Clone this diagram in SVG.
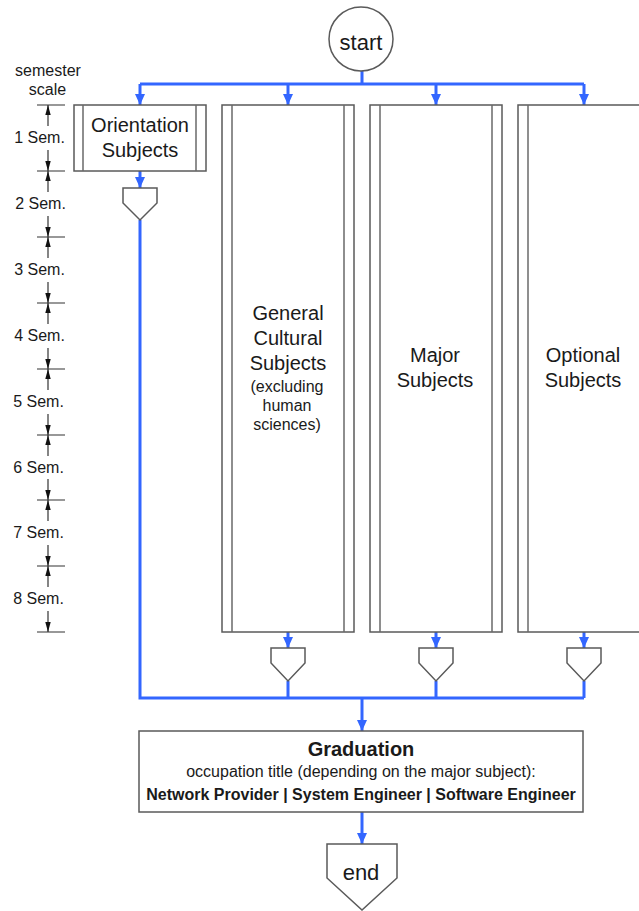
<svg xmlns="http://www.w3.org/2000/svg" width="639" height="911" viewBox="0 0 639 911">
  <style>
    text { font-family: "Liberation Sans", Arial, sans-serif; fill: #1a1a1a; }
    .lbl { font-size: 20px; text-anchor: middle; }
    .big { font-size: 22px; text-anchor: middle; }
    .small { font-size: 16px; text-anchor: middle; }
    .sem { font-size: 16px; text-anchor: middle; }
    .bold { font-weight: bold; }
    .box { fill: #ffffff; stroke: #5a5a5a; stroke-width: 1.5; }
    .inner { stroke: #6a6a6a; stroke-width: 1.5; fill: none; }
    .flow { stroke: #3366ff; stroke-width: 3; fill: none; }
    .tick { stroke: #333333; stroke-width: 1.2; fill: none; }
  </style>
  <defs>
    <marker id="arrow-blue" markerUnits="userSpaceOnUse" markerWidth="12" markerHeight="12" viewBox="0 0 12 12" refX="11" refY="6" orient="auto">
      <path d="M0,1 L11,6 L0,11 z" fill="#3366ff"/>
    </marker>
    <marker id="arrow-dim" markerUnits="userSpaceOnUse" markerWidth="10" markerHeight="8" viewBox="0 0 10 8" refX="10" refY="4" orient="auto">
      <path d="M0,1.3 L10,4 L0,6.7 z" fill="#111111"/>
    </marker>
  </defs>

  <!-- semester scale -->
  <g id="scale">
    <text class="sem" x="48" y="76">semester</text>
    <text class="sem" x="47.5" y="95">scale</text>
    <g class="tick">
      <path d="M37,105 H65 M37,171 H65 M37,237 H65 M37,303 H65 M37,369 H65 M37,435 H65 M37,500 H65 M37,566 H65 M37,632 H65"/>
    </g>
    <g class="tick" marker-end="url(#arrow-dim)">
      <path d="M48,126 V105"/><path d="M48,150 V171"/>
      <path d="M48,192 V171"/><path d="M48,216 V237"/>
      <path d="M48,258 V237"/><path d="M48,282 V303"/>
      <path d="M48,324 V303"/><path d="M48,348 V369"/>
      <path d="M48,390 V369"/><path d="M48,414 V435"/>
      <path d="M48,456 V435"/><path d="M48,479 V500"/>
      <path d="M48,521 V500"/><path d="M48,545 V566"/>
      <path d="M48,587 V566"/><path d="M48,611 V632"/>
    </g>
    <text class="sem" x="39.5" y="143">1 Sem.</text>
    <text class="sem" x="40.5" y="209">2 Sem.</text>
    <text class="sem" x="39.5" y="275">3 Sem.</text>
    <text class="sem" x="39.5" y="341">4 Sem.</text>
    <text class="sem" x="38.5" y="407">5 Sem.</text>
    <text class="sem" x="38.5" y="473">6 Sem.</text>
    <text class="sem" x="38.5" y="538">7 Sem.</text>
    <text class="sem" x="38.5" y="604">8 Sem.</text>
  </g>

  <!-- connectors -->
  <g id="connectors">
    <path class="flow" d="M362,71 V84 M140,84 H584"/>
    <path class="flow" d="M140,84 V105" marker-end="url(#arrow-blue)"/>
    <path class="flow" d="M288,84 V105" marker-end="url(#arrow-blue)"/>
    <path class="flow" d="M436,84 V105" marker-end="url(#arrow-blue)"/>
    <path class="flow" d="M584,84 V105" marker-end="url(#arrow-blue)"/>
    <path class="flow" d="M140,171 V188" marker-end="url(#arrow-blue)"/>
    <path class="flow" d="M288,632 V648" marker-end="url(#arrow-blue)"/>
    <path class="flow" d="M436,632 V648" marker-end="url(#arrow-blue)"/>
    <path class="flow" d="M584,632 V648" marker-end="url(#arrow-blue)"/>
    <path class="flow" d="M140,220 V698 H584 M288,681 V698 M436,681 V698 M584,681 V698"/>
    <path class="flow" d="M362,698 V731" marker-end="url(#arrow-blue)"/>
    <path class="flow" d="M362,812 V844" marker-end="url(#arrow-blue)"/>
  </g>

  <!-- start -->
  <g id="start">
    <circle class="box" cx="361" cy="39" r="32"/>
    <text class="big" x="361" y="50">start</text>
  </g>

  <!-- orientation subjects -->
  <g id="orientation">
    <rect class="box" x="74" y="105" width="132" height="66"/>
    <path class="inner" d="M83,105 V171 M196,105 V171"/>
    <text class="lbl" x="140" y="132">Orientation</text>
    <text class="lbl" x="140" y="157">Subjects</text>
  </g>
  <g id="orientation-merge">
    <path class="box" d="M123,188 H157 V203 L140,220 L123,203 Z"/>
  </g>

  <!-- general cultural subjects -->
  <g id="general">
    <rect class="box" x="222" y="105" width="132" height="527"/>
    <path class="inner" d="M232,105 V632 M344,105 V632"/>
    <text class="lbl" x="288" y="320">General</text>
    <text class="lbl" x="288" y="345">Cultural</text>
    <text class="lbl" x="288" y="370">Subjects</text>
    <text class="small" x="287" y="392">(excluding</text>
    <text class="small" x="287" y="411">human</text>
    <text class="small" x="287" y="430">sciences)</text>
  </g>
  <g id="general-merge">
    <path class="box" d="M271,648 H305 V663 L288,681 L271,663 Z"/>
  </g>

  <!-- major subjects -->
  <g id="major">
    <rect class="box" x="370" y="105" width="132" height="527"/>
    <path class="inner" d="M380,105 V632 M492,105 V632"/>
    <text class="lbl" x="435" y="362">Major</text>
    <text class="lbl" x="435" y="387">Subjects</text>
  </g>
  <g id="major-merge">
    <path class="box" d="M419,648 H453 V663 L436,681 L419,663 Z"/>
  </g>

  <!-- optional subjects -->
  <g id="optional">
    <rect class="box" x="518" y="105" width="132" height="527"/>
    <path class="inner" d="M528,105 V632"/>
    <text class="lbl" x="583" y="362">Optional</text>
    <text class="lbl" x="583" y="387">Subjects</text>
  </g>
  <g id="optional-merge">
    <path class="box" d="M567,648 H601 V663 L584,681 L567,663 Z"/>
  </g>

  <!-- graduation -->
  <g id="graduation">
    <rect class="box" x="139" y="731" width="444" height="81"/>
    <text class="lbl bold" x="361" y="756">Graduation</text>
    <text class="small" x="361" y="777">occupation title (depending on the major subject):</text>
    <text class="small bold" x="361" y="800">Network Provider | System Engineer | Software Engineer</text>
  </g>

  <!-- end -->
  <g id="end">
    <path class="box" d="M327,844 H397 V878 L362,910 L327,878 Z"/>
    <text class="big" x="361" y="880">end</text>
  </g>
</svg>
